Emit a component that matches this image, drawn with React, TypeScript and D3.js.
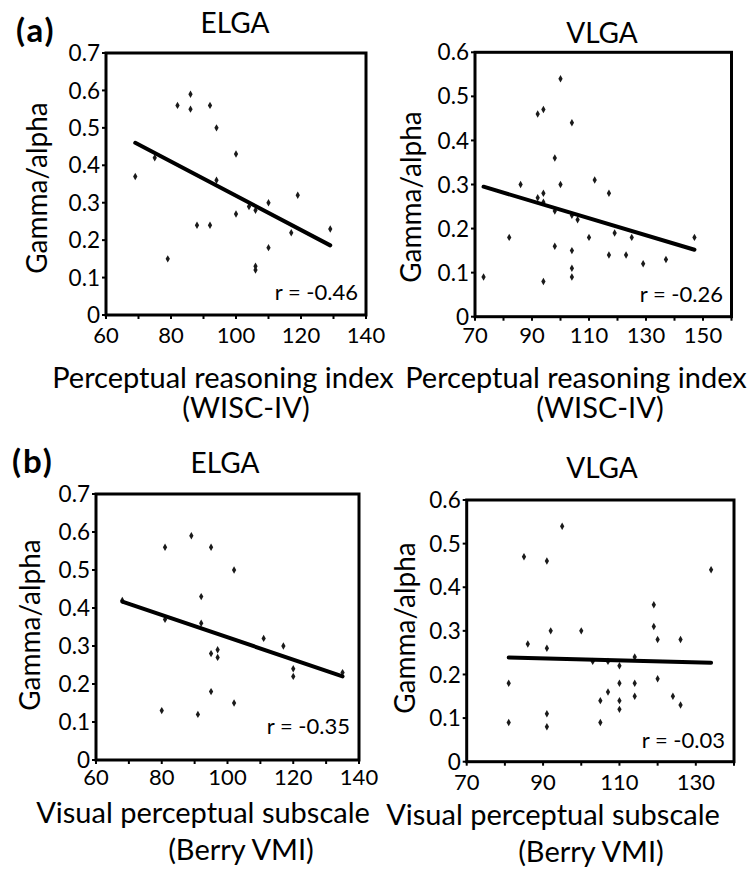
import React from "react";
import * as d3 from "d3";

const FONT = "Lato, 'Open Sans', sans-serif";

// ---------- data ----------
const aElgaX = [69, 75, 79, 82, 86, 86, 88, 92, 92, 94, 94, 100, 100, 104, 106, 106, 106, 110, 110, 117, 119, 129];
const aElgaY = [0.37, 0.42, 0.15, 0.56, 0.59, 0.55, 0.24, 0.56, 0.24, 0.5, 0.36, 0.43, 0.27, 0.29, 0.28, 0.13, 0.12, 0.3, 0.18, 0.22, 0.32, 0.23];
const aElgaFitX = [69, 129];
const aElgaFitY = [0.46, 0.186];

const aVlgaX = [73, 82, 86, 92, 92, 94, 94, 94, 94, 98, 98, 98, 100, 100, 104, 104, 104, 104, 104, 106, 110, 112, 117, 117, 119, 123, 125, 129, 137, 147];
const aVlgaY = [0.09, 0.18, 0.3, 0.27, 0.46, 0.47, 0.28, 0.26, 0.08, 0.36, 0.24, 0.16, 0.54, 0.3, 0.44, 0.23, 0.15, 0.11, 0.09, 0.22, 0.18, 0.31, 0.28, 0.14, 0.19, 0.14, 0.18, 0.12, 0.13, 0.18];
const aVlgaFitX = [73, 147];
const aVlgaFitY = [0.295, 0.152];

const bElgaX = [68, 80, 81, 81, 89, 91, 92, 92, 95, 95, 95, 97, 97, 102, 102, 111, 117, 120, 120, 135];
const bElgaY = [0.42, 0.13, 0.56, 0.37, 0.59, 0.12, 0.43, 0.36, 0.56, 0.28, 0.18, 0.29, 0.27, 0.5, 0.15, 0.32, 0.3, 0.24, 0.22, 0.23];
const bElgaFitX = [68, 135];
const bElgaFitY = [0.417, 0.22];

const bVlgaX = [81, 81, 85, 86, 91, 91, 91, 91, 92, 95, 100, 103, 105, 105, 107, 107, 110, 110, 110, 110, 114, 114, 114, 119, 119, 120, 120, 124, 126, 126, 134];
const bVlgaY = [0.18, 0.09, 0.47, 0.27, 0.46, 0.26, 0.11, 0.08, 0.3, 0.54, 0.3, 0.23, 0.14, 0.09, 0.23, 0.16, 0.22, 0.18, 0.14, 0.12, 0.24, 0.18, 0.15, 0.36, 0.31, 0.28, 0.19, 0.15, 0.28, 0.13, 0.44];
const bVlgaFitX = [81, 134];
const bVlgaFitY = [0.239, 0.227];

const elgaXDomain = [60, 140];
const elgaXTicks = [60, 70, 80, 90, 100, 110, 120, 130, 140];
const elgaXLabels = [60, 80, 100, 120, 140];
const elgaYDomain = [0, 0.7];
const elgaYTicks = [0, 0.1, 0.2, 0.3, 0.4, 0.5, 0.6, 0.7];

const aVlgaXDomain = [70, 160];
const aVlgaXTicks = [70, 80, 90, 100, 110, 120, 130, 140, 150, 160];
const aVlgaXLabels = [70, 90, 110, 130, 150];

const bVlgaXDomain = [70, 140];
const bVlgaXTicks = [70, 80, 90, 100, 110, 120, 130, 140];
const bVlgaXLabels = [70, 90, 110, 130];

const vlgaYDomain = [0, 0.6];
const vlgaYTicks = [0, 0.1, 0.2, 0.3, 0.4, 0.5, 0.6];

const wiscLabel = ["Perceptual reasoning index", "(WISC-IV)"];
const vmiLabel = ["Visual perceptual subscale", "(Berry VMI)"];

// ---------- layout ----------
type PanelCfg = {
  xs: number[]; ys: number[]; fitX: number[]; fitY: number[];
  xDomain: number[]; xTicks: number[]; xLabels: number[];
  yDomain: number[]; yTicks: number[];
  box: { x0: number; x1: number; y0: number; y1: number };
  title: string; titleX: number; titleY: number;
  yLabX: number; yLabY: number;
  xLab: string[]; xLab1: [number, number]; xLab2: [number, number];
  xTickBase: number;
  r: string; rX: number; rY: number;
};

const panels: PanelCfg[] = [
  {
    xs: aElgaX, ys: aElgaY, fitX: aElgaFitX, fitY: aElgaFitY,
    xDomain: elgaXDomain, xTicks: elgaXTicks, xLabels: elgaXLabels,
    yDomain: elgaYDomain, yTicks: elgaYTicks,
    box: { x0: 106, x1: 366, y0: 53, y1: 315 },
    title: "ELGA", titleX: 235, titleY: 33,
    yLabX: 47, yLabY: 188,
    xLab: wiscLabel, xLab1: [223, 388], xLab2: [246, 418],
    xTickBase: 343,
    r: "r = -0.46", rX: 358, rY: 300,
  },
  {
    xs: aVlgaX, ys: aVlgaY, fitX: aVlgaFitX, fitY: aVlgaFitY,
    xDomain: aVlgaXDomain, xTicks: aVlgaXTicks, xLabels: aVlgaXLabels,
    yDomain: vlgaYDomain, yTicks: vlgaYTicks,
    box: { x0: 475, x1: 731.5, y0: 52.3, y1: 316.7 },
    title: "VLGA", titleX: 602, titleY: 43,
    yLabX: 421, yLabY: 197,
    xLab: wiscLabel, xLab1: [576, 388], xLab2: [600, 418],
    xTickBase: 343,
    r: "r = -0.26", rX: 723, rY: 302,
  },
  {
    xs: bElgaX, ys: bElgaY, fitX: bElgaFitX, fitY: bElgaFitY,
    xDomain: elgaXDomain, xTicks: elgaXTicks, xLabels: elgaXLabels,
    yDomain: elgaYDomain, yTicks: elgaYTicks,
    box: { x0: 96, x1: 359, y0: 494, y1: 760 },
    title: "ELGA", titleX: 225, titleY: 473,
    yLabX: 40, yLabY: 625,
    xLab: vmiLabel, xLab1: [203, 823], xLab2: [241, 860],
    xTickBase: 785,
    r: "r = -0.35", rX: 350, rY: 734,
  },
  {
    xs: bVlgaX, ys: bVlgaY, fitX: bVlgaFitX, fitY: bVlgaFitY,
    xDomain: bVlgaXDomain, xTicks: bVlgaXTicks, xLabels: bVlgaXLabels,
    yDomain: vlgaYDomain, yTicks: vlgaYTicks,
    box: { x0: 466.7, x1: 734, y0: 500, y1: 761.7 },
    title: "VLGA", titleX: 602, titleY: 478,
    yLabX: 415, yLabY: 628,
    xLab: vmiLabel, xLab1: [553, 825], xLab2: [591, 862],
    xTickBase: 790,
    r: "r = -0.03", rX: 725, rY: 748,
  },
];

const diamond = d3.symbol().type(d3.symbolDiamond).size(16)();

function Panel({ p }: { p: PanelCfg }) {
  const x = d3.scaleLinear().domain(p.xDomain).range([p.box.x0, p.box.x1]);
  const y = d3.scaleLinear().domain(p.yDomain).range([p.box.y1, p.box.y0]);
  const line = d3.line<number>().x((_, i) => x(p.fitX[i])).y((d) => y(d));
  const fmtY = (v: number) => (v === 0 ? "0" : d3.format(".1f")(v));
  return (
    <g>
      <text x={p.titleX} y={p.titleY} textAnchor="middle" fontSize={28} fontFamily={FONT}>{p.title}</text>
      {p.yTicks.map((t) => (
        <g key={"y" + t}>
          <line x1={p.box.x0 - 4} x2={p.box.x0} y1={y(t)} y2={y(t)} stroke="#000" strokeWidth={2} />
          <text x={p.box.x0 - 6} y={y(t)} dy="0.36em" textAnchor="end" fontSize={22.5} fontFamily={FONT}>{fmtY(t)}</text>
        </g>
      ))}
      {p.xTicks.map((t) => (
        <line key={"x" + t} x1={x(t)} x2={x(t)} y1={p.box.y1} y2={p.box.y1 + 4} stroke="#000" strokeWidth={2} />
      ))}
      {p.xLabels.map((t) => (
        <text key={"xl" + t} x={x(t)} y={p.xTickBase} textAnchor="middle" fontSize={22} fontFamily={FONT}>{t}</text>
      ))}
      <rect x={p.box.x0} y={p.box.y0} width={p.box.x1 - p.box.x0} height={p.box.y1 - p.box.y0} fill="none" stroke="#000" strokeWidth={3} />
      {p.xs.map((v, i) => (
        <path key={"p" + i} d={diamond} transform={`translate(${x(v)},${y(p.ys[i])})`} fill="#1a1a1a" />
      ))}
      <path d={line(p.fitY) || ""} stroke="#000" strokeWidth={4} fill="none" strokeLinecap="round" />
      <text x={p.rX} y={p.rY} textAnchor="end" fontSize={22} fontFamily={FONT}>{p.r}</text>
      <text transform={`translate(${p.yLabX},${p.yLabY}) rotate(-90)`} textAnchor="middle" fontSize={28} fontFamily={FONT}>Gamma/alpha</text>
      <text x={p.xLab1[0]} y={p.xLab1[1]} textAnchor="middle" fontSize={29} fontFamily={FONT}>{p.xLab[0]}</text>
      <text x={p.xLab2[0]} y={p.xLab2[1]} textAnchor="middle" fontSize={29} fontFamily={FONT}>{p.xLab[1]}</text>
    </g>
  );
}

export default function App() {
  return (
    <svg width={747} height={869} style={{ position: "absolute", left: 0, top: 0, background: "#fff" }}>
      <rect x={0} y={0} width={747} height={869} fill="#fff" />
      <text x={16} y={42} fontSize={33} fontWeight="bold" letterSpacing={2} fontFamily={FONT}>(a)</text>
      <text x={12} y={473} fontSize={33} fontWeight="bold" letterSpacing={2} fontFamily={FONT}>(b)</text>
      {panels.map((p, i) => (
        <Panel key={i} p={p} />
      ))}
    </svg>
  );
}
